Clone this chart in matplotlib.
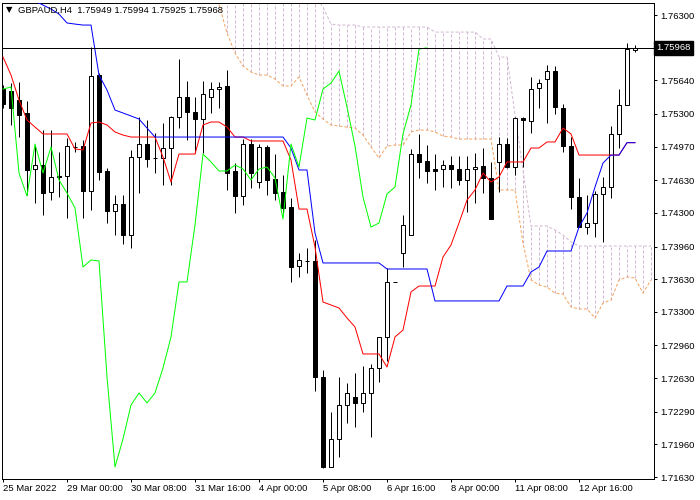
import matplotlib.pyplot as plt
import numpy as np

plt.rcParams['font.family'] = ['Liberation Sans', 'DejaVu Sans']

# GBPAUD H4, bars from 25 Mar 2022 16:00
symbol = "GBPAUD,H4"

opens = [1.75552, 1.75532, 1.75441, 1.75310, 1.74744, 1.74784, 1.74511, 1.74673, 1.74673, 1.74966,
         1.74976, 1.74521, 1.75694, 1.74724, 1.74319, 1.74390, 1.74077, 1.74865, 1.74996, 1.74855,
         1.74855, 1.74956, 1.75269, 1.75472, 1.75320, 1.75249, 1.75472, 1.75552, 1.75583, 1.74724,
         1.74471, 1.74996, 1.74612, 1.74966, 1.74643, 1.74511, 1.74360, 1.73763, 1.73814, 1.73814,
         1.72641, 1.71732, 1.72015, 1.72358, 1.72439, 1.72379, 1.72480, 1.72732, 1.73046, 1.73602,
         1.73895, 1.74077, 1.74895, 1.74825, 1.74744, 1.74744, 1.74784, 1.74744, 1.74633, 1.74744,
         1.74774, 1.74653, 1.74815, 1.74996, 1.74764, 1.75259, 1.75229, 1.75563, 1.75653, 1.75734,
         1.75360, 1.74976, 1.74461, 1.74157, 1.74198, 1.74491, 1.74562, 1.75098, 1.75391, 1.75949]
highs = [1.75593, 1.75613, 1.75623, 1.75431, 1.74986, 1.75138, 1.75138, 1.74916, 1.75057, 1.75017,
         1.75037, 1.75977, 1.75714, 1.74754, 1.74481, 1.74481, 1.74936, 1.75269, 1.75239, 1.75108,
         1.75209, 1.75280, 1.75856, 1.75633, 1.75472, 1.75633, 1.75623, 1.75623, 1.75744, 1.74804,
         1.75047, 1.75047, 1.74996, 1.74986, 1.74895, 1.74683, 1.74451, 1.73895, 1.73945, 1.74026,
         1.72712, 1.72288, 1.72641, 1.72581, 1.72682, 1.72753, 1.72773, 1.73046, 1.73743, 1.73602,
         1.74279, 1.74946, 1.75098, 1.74986, 1.74895, 1.74835, 1.74875, 1.74875, 1.74875, 1.74905,
         1.74956, 1.74815, 1.75067, 1.75057, 1.75269, 1.75269, 1.75674, 1.75653, 1.75795, 1.75785,
         1.75401, 1.75067, 1.74653, 1.74481, 1.74521, 1.74663, 1.75178, 1.75552, 1.76017, 1.75994]
lows = [1.75360, 1.75189, 1.75067, 1.74481, 1.74400, 1.74279, 1.74430, 1.74461, 1.74248, 1.74916,
        1.74248, 1.74329, 1.74633, 1.74198, 1.74077, 1.73986, 1.73945, 1.74501, 1.74764, 1.74703,
        1.74582, 1.74582, 1.75158, 1.75037, 1.74905, 1.74905, 1.75310, 1.75360, 1.74532, 1.74299,
        1.74380, 1.74552, 1.74552, 1.74481, 1.74430, 1.74299, 1.73602, 1.73652, 1.73693, 1.72500,
        1.71721, 1.71732, 1.71833, 1.72176, 1.72136, 1.72288, 1.72035, 1.72591, 1.72803, 1.73602,
        1.73753, 1.74077, 1.74653, 1.74602, 1.74532, 1.74562, 1.74552, 1.74582, 1.74309, 1.74400,
        1.74501, 1.74238, 1.74511, 1.74754, 1.74683, 1.74764, 1.75108, 1.75360, 1.75209, 1.75300,
        1.74916, 1.74339, 1.74157, 1.74087, 1.74056, 1.74006, 1.74451, 1.74956, 1.75391, 1.75925]
closes = [1.75401, 1.75360, 1.75290, 1.74734, 1.74784, 1.74501, 1.74663, 1.74663, 1.74976, 1.74966,
          1.74521, 1.75684, 1.74713, 1.74319, 1.74390, 1.74077, 1.74865, 1.74996, 1.74845, 1.74855,
          1.74956, 1.75269, 1.75472, 1.75320, 1.75249, 1.75502, 1.75552, 1.75573, 1.74703, 1.74471,
          1.74996, 1.74703, 1.74966, 1.74633, 1.74501, 1.74350, 1.73753, 1.73824, 1.73814, 1.72641,
          1.71732, 1.72015, 1.72358, 1.72480, 1.72379, 1.72480, 1.72732, 1.73046, 1.73602, 1.73602,
          1.74178, 1.74895, 1.74815, 1.74724, 1.74724, 1.74784, 1.74744, 1.74633, 1.74744, 1.74764,
          1.74653, 1.74238, 1.74996, 1.74764, 1.75259, 1.75239, 1.75552, 1.75613, 1.75734, 1.75370,
          1.74976, 1.74461, 1.74157, 1.74198, 1.74491, 1.74562, 1.75098, 1.75391, 1.75957, 1.75968]

# ichimoku lines
tenkan = [1.75876, 1.75694, 1.75441, 1.75239, 1.75168, 1.75098, 1.75098, 1.75098, 1.75098, 1.74946,
          1.74936, 1.75209, 1.75219, 1.75189, 1.75118, 1.75087, 1.75067, 1.75067, 1.75067, 1.75067,
          1.74865, 1.74612, 1.74895, 1.74895, 1.74895, 1.75189, 1.75219, 1.75219, 1.75168, 1.75067,
          1.75067, 1.75027, 1.75027, 1.75027, 1.75027, 1.75027, 1.74835, 1.74339, 1.74339, 1.73955,
          1.73399, 1.73369, 1.73339, 1.73238, 1.73147, 1.72874, 1.72874, 1.72874, 1.72742, 1.73046,
          1.73116, 1.73501, 1.73561, 1.73561, 1.73561, 1.73854, 1.73976, 1.74198, 1.74430, 1.74532,
          1.74703, 1.74612, 1.74663, 1.74815, 1.74815, 1.74815, 1.74956, 1.74956, 1.75017, 1.75017,
          1.75158, 1.75098, 1.74885, 1.74885, 1.74885, 1.74885, 1.74885, 1.74885, 1.75010, 1.75010]
kijun = [np.nan, np.nan, np.nan, np.nan, 1.76442, 1.76401, 1.76361, 1.76310, 1.76220, 1.76209,
         1.76199, 1.76199, 1.75694, 1.75542, 1.75340, 1.75310, 1.75280, 1.75249, 1.75158, 1.75067,
         1.75067, 1.75067, 1.75067, 1.75067, 1.75067, 1.75067, 1.75067, 1.75067, 1.75067, 1.75067,
         1.75067, 1.75067, 1.75067, 1.75067, 1.75067, 1.75067, 1.74956, 1.74734, 1.74734, 1.74097,
         1.73794, 1.73794, 1.73794, 1.73794, 1.73794, 1.73794, 1.73794, 1.73794, 1.73733, 1.73733,
         1.73733, 1.73733, 1.73733, 1.73733, 1.73410, 1.73410, 1.73410, 1.73410, 1.73410, 1.73410,
         1.73410, 1.73410, 1.73410, 1.73561, 1.73561, 1.73561, 1.73703, 1.73753, 1.73915, 1.73915,
         1.73915, 1.73915, 1.74157, 1.74299, 1.74562, 1.74804, 1.74885, 1.74885, 1.75010, 1.75010]
chikou_shift = 26

span_a_start = 26
span_a = [1.76460, 1.76412, 1.76118, 1.75916, 1.75785, 1.75724, 1.75694, 1.75694, 1.75653, 1.75583,
          1.75583, 1.75674, 1.75492, 1.75320, 1.75249, 1.75189, 1.75178, 1.75168, 1.75158, 1.75087,
          1.74966, 1.74855, 1.74976, 1.74986, 1.74986, 1.75118, 1.75138, 1.75138, 1.75118, 1.75077,
          1.75067, 1.75047, 1.75047, 1.75047, 1.75047, 1.75047, 1.74532, 1.74532, 1.74532, 1.73996,
          1.73622, 1.73571, 1.73551, 1.73490, 1.73480, 1.73349, 1.73329, 1.73329, 1.73238, 1.73389,
          1.73420, 1.73622, 1.73652, 1.73642, 1.73490, 1.73622]
span_b_start = 27
span_b = [1.76500] * 13 + [1.76381, 1.76209, 1.76199, 1.76199, 1.76199] + [1.76179] * 9 + \
         [1.76128] * 6 + [1.76058, 1.76058, 1.75876, 1.75876, 1.75290, 1.74734, 1.74168, 1.74168,
                          1.74168, 1.74127, 1.74077, 1.74006] + [1.73965] * 10

date_labels = ["25 Mar 2022", "29 Mar 00:00", "30 Mar 08:00", "31 Mar 16:00", "4 Apr 00:00",
               "5 Apr 08:00", "6 Apr 16:00", "8 Apr 00:00", "11 Apr 08:00", "12 Apr 16:00"]
date_label_bars = [0, 8, 16, 24, 32, 40, 48, 56, 64, 72]
price_ticks = [1.76300, 1.75640, 1.75300, 1.74970, 1.74630, 1.74300, 1.73960,
               1.73630, 1.73300, 1.72960, 1.72630, 1.72290, 1.71960, 1.71630]

px = 0.72  # one pixel in points

fig = plt.figure(figsize=(7, 5), dpi=100)
ax = fig.add_axes([2 / 700, 21 / 500, 652 / 700, 476 / 500])

o = np.array(opens)
h = np.array(highs)
l = np.array(lows)
c = np.array(closes)
idx = np.arange(len(o))

# cloud hatching (thistle) between the two spans
ka = np.arange(span_a_start, span_a_start + len(span_a))
kb = np.arange(span_b_start, span_b_start + len(span_b))
sa = np.array(span_a)
sb = np.array(span_b)
a_common = sa[kb - span_a_start]
ax.vlines(kb, np.minimum(a_common, sb), np.maximum(a_common, sb),
          colors='#D2B8D2', linestyles=(0, (3, 2)), lw=px, zorder=1)
ax.plot(ka, sa, color='#F4A460', ls=(0, (3, 2)), lw=px, zorder=1)
ax.plot(kb, sb, color='#D2B8D2', ls=(0, (3, 2)), lw=px, zorder=1)

# candles
ax.vlines(idx, l, h, colors='black', lw=px, zorder=2)
flat = o == c
up = c > o
down = c < o
ax.bar(idx[up], (c - o)[up], bottom=o[up], width=0.5, color='white',
       edgecolor='black', lw=px, zorder=3)
ax.bar(idx[down], (o - c)[down], bottom=c[down], width=0.5, color='black',
       edgecolor='black', lw=px, zorder=3)
ax.hlines(o[flat], idx[flat] - 0.3, idx[flat] + 0.3, colors='black', lw=px, zorder=3)

# ichimoku lines
ax.plot(idx, tenkan, color='red', lw=px, zorder=4)
ax.plot(idx, kijun, color='blue', lw=px, zorder=4)
ax.plot(idx[:len(c) - chikou_shift], c[chikou_shift:], color='#00FF00', lw=px, zorder=4)

# bid line
ax.axhline(c[-1], color='black', lw=px, zorder=5)

ax.set_xlim(-0.125, 81.375)
ax.set_ylim(1.71610, 1.76422)

for s in ax.spines.values():
    s.set_linewidth(px)

ax.yaxis.tick_right()
ax.set_yticks(price_ticks)
ax.set_yticklabels([f"{p:.5f}" for p in price_ticks])
ax.tick_params(axis='y', direction='out', length=2.2, width=px, pad=2, labelsize=6.8)
ax.set_xticks(date_label_bars)
ax.set_xticklabels(date_labels, ha='left')
ax.tick_params(axis='x', direction='out', length=2.2, width=px, pad=1.5, labelsize=6.8)

ax.text(1.0035, c[-1], f"{c[-1]:.5f}", transform=ax.get_yaxis_transform(),
        color='white', size=6.8, va='center', ha='left',
        bbox=dict(boxstyle='square,pad=0.25', fc='black', ec='black'))

fig.text(6 / 700, 1 - 10 / 500, "\u25bc", size=6, va='center', ha='left',
         family=['DejaVu Sans'])
fig.text(18 / 700, 1 - 10 / 500,
         f"{symbol}  {opens[-1]:.5f} {highs[-1]:.5f} {lows[-1]:.5f} {closes[-1]:.5f}",
         size=6.8, va='center', ha='left')

fig.savefig('out.png', dpi=100)
